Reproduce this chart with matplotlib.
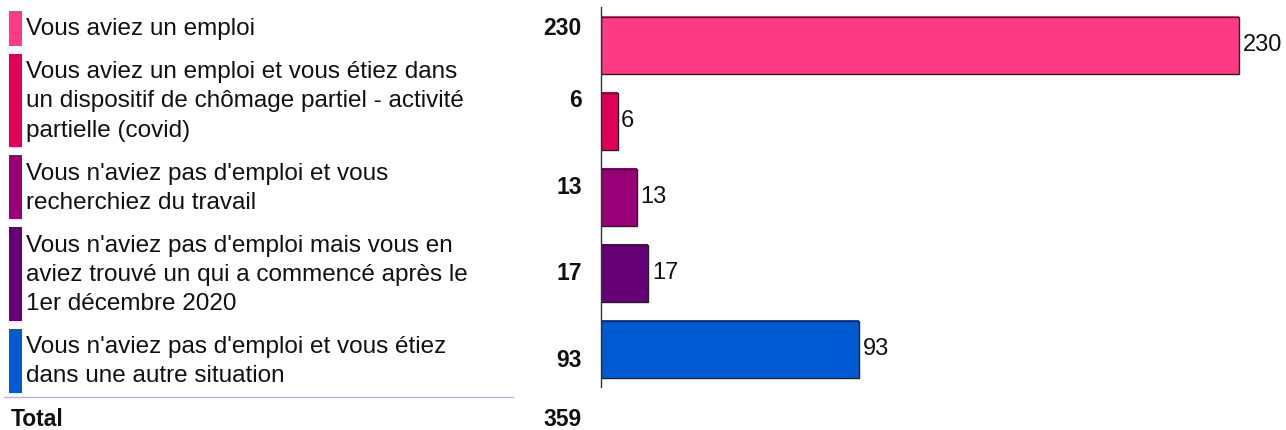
import matplotlib.pyplot as plt
from matplotlib.patches import Rectangle

plt.rcParams["font.family"] = ["Liberation Sans", "DejaVu Sans"]

# =====================================================
#                       Data
# =====================================================
labels = [
    ["Vous aviez un emploi"],
    ["Vous aviez un emploi et vous étiez dans",
     "un dispositif de chômage partiel - activité",
     "partielle (covid)"],
    ["Vous n'aviez pas d'emploi et vous",
     "recherchiez du travail"],
    ["Vous n'aviez pas d'emploi mais vous en",
     "aviez trouvé un qui a commencé après le",
     "1er décembre 2020"],
    ["Vous n'aviez pas d'emploi et vous étiez",
     "dans une autre situation"],
]
values = [230, 6, 13, 17, 93]
total_label = "Total"
total_value = 359
colors = ["#FF3A85", "#E0005A", "#990077", "#660077", "#005AD2"]

W, H = 1286, 430
fig = plt.figure(figsize=(W / 100, H / 100), dpi=100)

# =====================================================
#                    Bar chart
# =====================================================
px_per_unit = 638 / 230
xmax = 245
ax = fig.add_axes([601 / W, 43 / H, xmax * px_per_unit / W, 380 / H])
ypos = list(range(len(values)))
# coloured rim slightly outside the dark outline, like the original
ax.barh(ypos, values, height=0.77, left=0, color=colors, linewidth=0)
ax.barh(ypos, values, height=0.75, color=colors, edgecolor="#222222",
        linewidth=1)
for y, v in zip(ypos, values):
    ax.text(v + 1.3, y, str(v), va="center", ha="left", fontsize=17,
            color="#111111")
ax.set_xlim(0, xmax)
ax.set_ylim(len(values) - 0.5, -0.5)
for side in ["top", "right", "bottom"]:
    ax.spines[side].set_visible(False)
ax.spines["left"].set_color("#333333")
ax.spines["left"].set_linewidth(1)
ax.set_xticks([])
ax.set_yticks([])

# =====================================================
#                 Left table (pixel coords)
# =====================================================
tab = fig.add_axes([0, 0, 1, 1])
tab.set_xlim(0, W)
tab.set_ylim(H, 0)
tab.axis("off")

line_h = 29.3
gap = 8
top = 11
for lines, v, c in zip(labels, values, colors):
    h = len(lines) * line_h + 5.5
    tab.add_patch(Rectangle((9, top), 12.5, h, color=c, lw=0))
    y0 = top + h / 2 - len(lines) * line_h / 2 + 1
    for i, ln in enumerate(lines):
        tab.text(26, y0 + line_h * (i + 0.5), ln, fontsize=17.5,
                 va="center", ha="left", color="#111111")
    tab.text(582, top + h / 2, str(v), fontsize=16.5, fontweight="bold",
             va="center", ha="right", color="#111111")
    top += h + gap

tab.plot([4, 513], [397, 397], color="#C8A8F0", lw=1)
tab.text(11, 419, total_label, fontsize=16.5, fontweight="bold",
         va="center", ha="left", color="#111111")
tab.text(582, 419, str(total_value), fontsize=16.5, fontweight="bold",
         va="center", ha="right", color="#111111")

fig.savefig("out.png", dpi=100)
